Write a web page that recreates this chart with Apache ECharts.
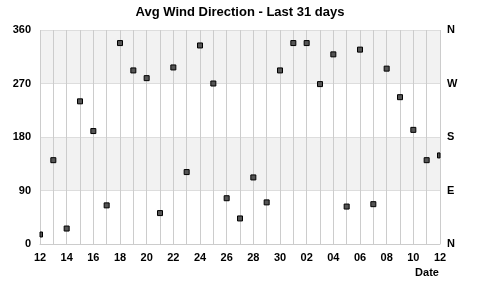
<!DOCTYPE html>
<html>
<head>
<meta charset="utf-8">
<script src="https://cdn.jsdelivr.net/npm/echarts@6/dist/echarts.min.js"></script>
<style>html,body{margin:0;padding:0;background:#fff;}#c{width:480px;height:299px;}</style>
</head>
<body>
<div id="c"></div>
<script>
var days = ['12','13','14','15','16','17','18','19','20','21','22','23','24','25','26','27','28','29','30','01','02','03','04','05','06','07','08','09','10','11','12'];
var directions = [16,141,26,240,190,65,338,292,279,52,297,121,334,270,77,43,112,70,292,338,338,269,319,63,327,67,295,247,192,141,149];
var degreeTicks = [0,90,180,270,360];
var compassLabels = ['N','E','S','W','N'];

var chart = echarts.init(document.getElementById('c'), null, {renderer:'canvas'});
var font = 'Liberation Sans, Arial, sans-serif';
chart.setOption({
  animation:false,
  title:{text:'Avg Wind Direction - Last 31 days', left:'center', top:1,
    textStyle:{fontFamily:font, fontSize:13, fontWeight:'bold', color:'#000'}},
  grid:{left:40, right:40, top:30, bottom:55},
  xAxis:{type:'category', data:days, boundaryGap:false,
    name:'Date', nameLocation:'end', nameGap:-13,
    nameTextStyle:{fontFamily:font, fontSize:11, fontWeight:'bold', color:'#000', align:'center', verticalAlign:'top', padding:[23,0,0,0]},
    axisLine:{show:true, lineStyle:{color:'#ccc'}}, axisTick:{show:false},
    axisLabel:{interval:1, margin:8, fontFamily:font, fontSize:11, fontWeight:'bold', color:'#000'},
    splitLine:{show:true, interval:0, lineStyle:{color:'#ccc', width:1}}},
  yAxis:[
    {type:'value', min:0, max:360, interval:90,
      axisLine:{show:false}, axisTick:{show:false},
      axisLabel:{margin:9, fontFamily:font, fontSize:11, fontWeight:'bold', color:'#000',
        formatter:function(v){ return degreeTicks.indexOf(v) >= 0 ? String(v) : ''; }},
      splitLine:{show:true, lineStyle:{color:'#ddd'}},
      splitArea:{show:true, areaStyle:{color:['#ffffff','#f2f2f2']}}},
    {type:'value', min:0, max:360, interval:90, position:'right',
      axisLine:{show:false}, axisTick:{show:false},
      axisLabel:{margin:7, fontFamily:font, fontSize:11, fontWeight:'bold', color:'#000',
        formatter:function(v){ var i = degreeTicks.indexOf(v); return i >= 0 ? compassLabels[i] : ''; }},
      splitLine:{show:false}}
  ],
  series:[{
    type:'custom',
    data:directions.map(function(v,i){ return [i, v]; }),
    encode:{x:0, y:1},
    renderItem:function(params, api){
      var p = api.coord([api.value(0), api.value(1)]);
      var s = 5;
      var cs = params.coordSys;
      var shape = echarts.graphic.clipRectByRect(
        {x:p[0]-s/2, y:p[1]-s/2, width:s, height:s},
        {x:cs.x, y:cs.y, width:cs.width, height:cs.height});
      if (!shape) return null;
      return {type:'rect', shape:shape, style:{fill:'#555', stroke:'#000', lineWidth:1}};
    }
  }]
});
</script>
</body>
</html>
